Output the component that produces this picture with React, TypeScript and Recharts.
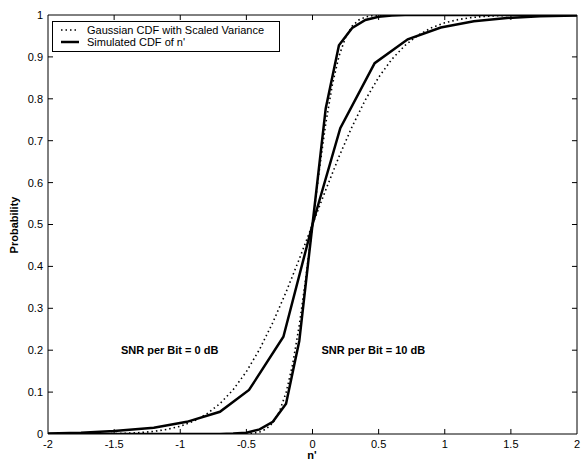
import { LineChart, Line, XAxis, YAxis, ReferenceLine, ReferenceDot } from "recharts"

// axis ticks
const xTicks = [-2, -1.5, -1, -0.5, 0, 0.5, 1, 1.5, 2]
const yTicks = [0, 0.1, 0.2, 0.3, 0.4, 0.5, 0.6, 0.7, 0.8, 0.9, 1]

// Gaussian CDF with scaled variance, 0 dB
const gaussX0 = [
  -2, -1.9, -1.8, -1.7, -1.6, -1.5, -1.4, -1.3, -1.2, -1.1, -1, -0.9, -0.8, -0.7, -0.6, -0.5, -0.4, -0.3, -0.2, -0.1,
  0, 0.1, 0.2, 0.3, 0.4, 0.5, 0.6, 0.7, 0.8, 0.9, 1, 1.1, 1.2, 1.3, 1.4, 1.5, 1.6, 1.7, 1.8, 1.9, 2,
]
const gauss0dB = [
  0, 0, 0.0001, 0.0002, 0.0004, 0.0009, 0.0018, 0.0034, 0.0062, 0.011, 0.0186, 0.0304, 0.0478, 0.0724, 0.1056, 0.1488,
  0.2023, 0.266, 0.3385, 0.4175, 0.5, 0.5825, 0.6615, 0.734, 0.7977, 0.8512, 0.8944, 0.9276, 0.9522, 0.9696, 0.9814,
  0.989, 0.9938, 0.9966, 0.9982, 0.9991, 0.9996, 0.9998, 0.9999, 1, 1,
]

// Gaussian CDF with scaled variance, 10 dB
const gaussX10 = [
  -2, -0.7, -0.65, -0.6, -0.55, -0.5, -0.45, -0.4, -0.35, -0.3, -0.25, -0.2, -0.15, -0.1, -0.05, 0, 0.05, 0.1, 0.15,
  0.2, 0.25, 0.3, 0.35, 0.4, 0.45, 0.5, 0.55, 0.6, 0.65, 0.7, 2,
]
const gauss10dB = [
  0, 0, 0, 0.00005, 0.0002, 0.0006, 0.0018, 0.0049, 0.012, 0.0265, 0.0534, 0.0985, 0.1665, 0.2594, 0.3735, 0.5, 0.6265,
  0.7406, 0.8335, 0.9015, 0.9466, 0.9735, 0.988, 0.9951, 0.9982, 0.9994, 0.9998, 0.99995, 1, 1, 1,
]

// simulated CDF of n', 0 dB
const simX0 = [-2, -1.75, -1.5, -1.2, -0.95, -0.7, -0.48, -0.22, 0, 0.21, 0.47, 0.72, 0.97, 1.22, 1.47, 1.72, 2]
const sim0dB = [0.001, 0.003, 0.007, 0.015, 0.029, 0.053, 0.105, 0.232, 0.5, 0.73, 0.885, 0.942, 0.97, 0.985, 0.993, 0.997, 0.999]

// simulated CDF of n', 10 dB
const simX10 = [-2, -0.7, -0.6, -0.5, -0.4, -0.3, -0.2, -0.1, 0, 0.1, 0.2, 0.3, 0.4, 0.5, 0.6, 0.7, 2]
const sim10dB = [0, 0, 0.001, 0.003, 0.011, 0.029, 0.072, 0.222, 0.5, 0.777, 0.928, 0.969, 0.988, 0.996, 0.999, 1, 1]

const toPoints = (xs: number[], ys: number[]) => xs.map((x, i) => ({ x, y: ys[i] }))

const font = "'Liberation Sans', Arial, Helvetica, sans-serif"
const dotted = "1.5 3"

export default function App() {
  const innerX = xTicks.slice(1, -1)
  const innerY = yTicks.slice(1, -1)
  return (
    <div style={{ position: "absolute", left: 0, top: 0, width: 586, height: 461, background: "#fff" }}>
      <LineChart
        width={586}
        height={461}
        margin={{ top: 15, right: 9, left: 0, bottom: 0 }}
        style={{ fontFamily: font }}
      >
        <XAxis
          type="number"
          dataKey="x"
          domain={[-2, 2]}
          ticks={xTicks}
          allowDataOverflow
          height={27}
          tickSize={0}
          tickMargin={6}
          tickLine={false}
          axisLine={{ stroke: "#000" }}
          tick={{ fill: "#000", fontSize: 11 }}
        />
        <YAxis
          type="number"
          dataKey="y"
          domain={[0, 1]}
          ticks={yTicks}
          allowDataOverflow
          width={48}
          tickSize={0}
          tickMargin={5}
          tickLine={false}
          axisLine={{ stroke: "#000" }}
          tick={{ fill: "#000", fontSize: 11 }}
        />
        <ReferenceLine y={1} stroke="#000" />
        <ReferenceLine x={2} stroke="#000" />
        {innerX.map((t) => (
          <ReferenceLine key={"b" + t} segment={[{ x: t, y: 0 }, { x: t, y: 0.012 }]} stroke="#000" />
        ))}
        {innerX.map((t) => (
          <ReferenceLine key={"t" + t} segment={[{ x: t, y: 1 }, { x: t, y: 0.988 }]} stroke="#000" />
        ))}
        {innerY.map((t) => (
          <ReferenceLine key={"l" + t} segment={[{ x: -2, y: t }, { x: -1.962, y: t }]} stroke="#000" />
        ))}
        {innerY.map((t) => (
          <ReferenceLine key={"r" + t} segment={[{ x: 2, y: t }, { x: 1.962, y: t }]} stroke="#000" />
        ))}
        <Line
          data={toPoints(gaussX0, gauss0dB)}
          dataKey="y"
          type="linear"
          stroke="#000"
          strokeWidth={1.6}
          strokeDasharray={dotted}
          dot={false}
          isAnimationActive={false}
        />
        <Line
          data={toPoints(gaussX10, gauss10dB)}
          dataKey="y"
          type="linear"
          stroke="#000"
          strokeWidth={1.6}
          strokeDasharray={dotted}
          dot={false}
          isAnimationActive={false}
        />
        <Line
          data={toPoints(simX0, sim0dB)}
          dataKey="y"
          type="linear"
          stroke="#000"
          strokeWidth={2.5}
          dot={false}
          isAnimationActive={false}
        />
        <Line
          data={toPoints(simX10, sim10dB)}
          dataKey="y"
          type="linear"
          stroke="#000"
          strokeWidth={2.5}
          dot={false}
          isAnimationActive={false}
        />
        <ReferenceDot
          x={-1.08}
          y={0.2}
          r={0}
          fill="none"
          stroke="none"
          label={{ value: "SNR per Bit = 0 dB", position: "center", fill: "#000", fontSize: 11, fontWeight: "bold" }}
        />
        <ReferenceDot
          x={0.46}
          y={0.2}
          r={0}
          fill="none"
          stroke="none"
          label={{ value: "SNR per Bit = 10 dB", position: "center", fill: "#000", fontSize: 11, fontWeight: "bold" }}
        />
      </LineChart>
      <svg
        width={586}
        height={461}
        style={{ position: "absolute", left: 0, top: 0, pointerEvents: "none", fontFamily: font }}
      >
        <text x={312} y={459} textAnchor="middle" fontSize={11} fontWeight="bold" fill="#000">
          n'
        </text>
        <text transform="translate(18,225) rotate(-90)" textAnchor="middle" fontSize={11} fontWeight="bold" fill="#000">
          Probability
        </text>
        <rect x={52.5} y={21.5} width={227} height={30} fill="#fff" stroke="#000" strokeWidth={1} />
        <line x1={61} y1={30} x2={79} y2={30} stroke="#000" strokeWidth={1.6} strokeDasharray={dotted} />
        <text x={87} y={34} fontSize={11} fill="#000">
          Gaussian CDF with Scaled Variance
        </text>
        <line x1={61} y1={42} x2={79} y2={42} stroke="#000" strokeWidth={2.5} />
        <text x={87} y={46} fontSize={11} fill="#000">
          Simulated CDF of n'
        </text>
      </svg>
    </div>
  )
}
